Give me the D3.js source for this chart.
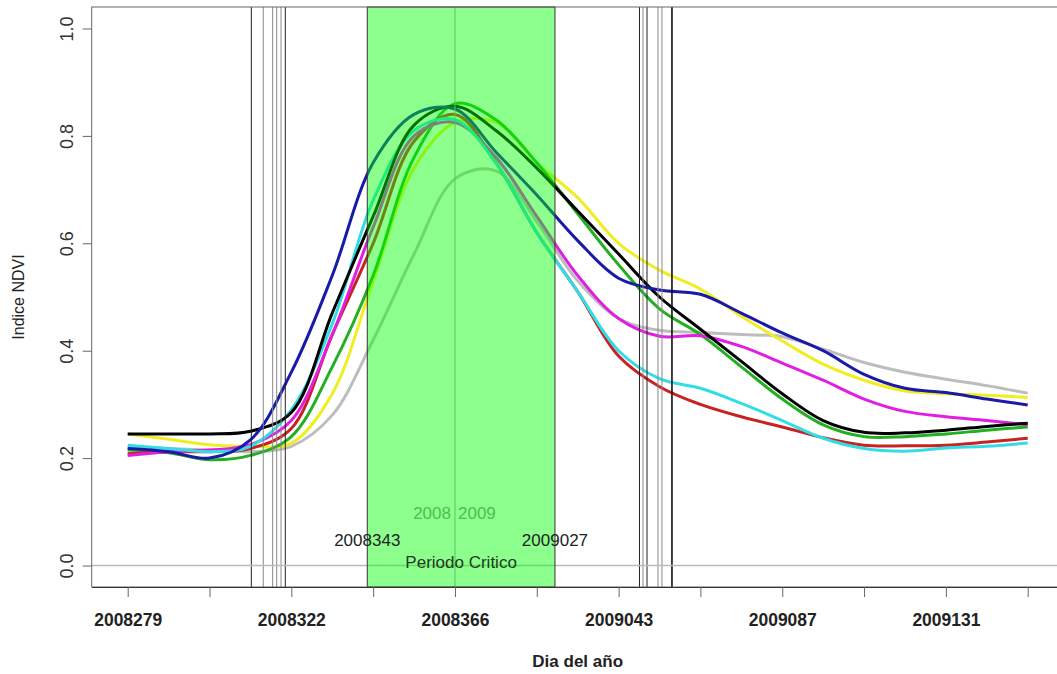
<!DOCTYPE html>
<html>
<head>
<meta charset="utf-8">
<script src="https://cdn.jsdelivr.net/npm/d3@7"></script>
<style>
  body { margin: 0; background: #fff; }
  svg { display: block; font-family: "Liberation Sans", Arial, sans-serif; }
</style>
</head>
<body>
<svg id="chart"></svg>
<script>
// x position is a tick index (one tick every ~22 days), samples every half tick
const tIndex = [0, 0.5, 1, 1.5, 2, 2.5, 3, 3.5, 4, 4.5, 5, 5.5, 6, 6.5, 7, 7.5, 8, 8.5, 9, 9.5, 10, 10.5, 11];
const tickLabels = ['2008279', '', '2008322', '', '2008366', '', '2009043', '', '2009087', '', '2009131', ''];
const yTicks = [0, 0.2, 0.4, 0.6, 0.8, 1.0];

const ndviGray    = [0.22, 0.218, 0.215, 0.212, 0.222, 0.28, 0.42, 0.58, 0.72, 0.735, 0.64, 0.53, 0.46, 0.438, 0.434, 0.43, 0.426, 0.403, 0.378, 0.36, 0.347, 0.335, 0.321];
const ndviYellow  = [0.245, 0.235, 0.225, 0.222, 0.228, 0.32, 0.53, 0.74, 0.825, 0.825, 0.75, 0.685, 0.60, 0.55, 0.515, 0.464, 0.418, 0.375, 0.345, 0.325, 0.32, 0.317, 0.313];
const ndviGreen   = [0.215, 0.21, 0.197, 0.205, 0.24, 0.37, 0.54, 0.76, 0.86, 0.83, 0.75, 0.655, 0.56, 0.478, 0.43, 0.37, 0.31, 0.262, 0.24, 0.24, 0.245, 0.252, 0.258];
const ndviRed     = [0.208, 0.212, 0.212, 0.218, 0.255, 0.43, 0.60, 0.79, 0.84, 0.75, 0.62, 0.51, 0.39, 0.333, 0.30, 0.277, 0.258, 0.238, 0.224, 0.223, 0.224, 0.23, 0.237];
const ndviMagenta = [0.205, 0.212, 0.215, 0.225, 0.27, 0.43, 0.63, 0.80, 0.825, 0.76, 0.65, 0.54, 0.46, 0.427, 0.428, 0.408, 0.377, 0.345, 0.31, 0.287, 0.277, 0.27, 0.262];
const ndviCyan    = [0.224, 0.218, 0.212, 0.222, 0.29, 0.45, 0.68, 0.81, 0.83, 0.75, 0.62, 0.51, 0.40, 0.348, 0.33, 0.302, 0.27, 0.237, 0.218, 0.213, 0.219, 0.222, 0.228];
const ndviBlack   = [0.245, 0.245, 0.245, 0.25, 0.285, 0.47, 0.65, 0.82, 0.855, 0.81, 0.74, 0.66, 0.58, 0.50, 0.44, 0.38, 0.32, 0.27, 0.248, 0.247, 0.252, 0.259, 0.265];
const ndviBlue    = [0.218, 0.212, 0.200, 0.234, 0.36, 0.54, 0.75, 0.84, 0.85, 0.77, 0.69, 0.605, 0.535, 0.513, 0.505, 0.47, 0.433, 0.40, 0.356, 0.33, 0.322, 0.31, 0.299];

// vertical reference lines (tick index units)
const leftMarks  = [1.511, 1.657, 1.772, 1.821, 1.874, 1.926];
const leftCols   = ['#222', '#888', '#888', '#888', '#888', '#222'];
const rightMarks = [6.255, 6.298, 6.347, 6.481, 6.530, 6.652];
const rightCols  = ['#222', '#888', '#222', '#888', '#888', '#111'];

const critStart = 2.928, critEnd = 5.222, critMid = 4;

const series = [
  { name: 'gray', color: '#bdbdbd', values: ndviGray },
  { name: 'yellow', color: '#f0ee22', values: ndviYellow },
  { name: 'green', color: '#22b022', values: ndviGreen },
  { name: 'red', color: '#c82222', values: ndviRed },
  { name: 'magenta', color: '#e020e0', values: ndviMagenta },
  { name: 'cyan', color: '#33dde6', values: ndviCyan },
  { name: 'black', color: '#000000', values: ndviBlack },
  { name: 'blue', color: '#1a1aa8', values: ndviBlue }
];

const width = 1057, height = 674;
const svg = d3.select('#chart').attr('width', width).attr('height', height);

const x = d3.scaleLinear().domain([-0.44, 11.44]).range([91.7, 1063.7]);
const y = d3.scaleLinear().domain([-0.04, 1.04]).range([587, 7]);

const line = d3.line()
  .x((d, i) => x(tIndex[i]))
  .y(d => y(d))
  .curve(d3.curveCatmullRom.alpha(0.5));

svg.selectAll('.ndvi')
  .data(series)
  .join('path')
  .attr('class', 'ndvi')
  .attr('fill', 'none')
  .attr('stroke', d => d.color)
  .attr('stroke-width', 3)
  .attr('stroke-linejoin', 'round')
  .attr('d', d => line(d.values));

// vertical marks
const marks = leftMarks.map((m, i) => ({ t: m, c: leftCols[i] }))
  .concat(rightMarks.map((m, i) => ({ t: m, c: rightCols[i] })));
svg.selectAll('.mark')
  .data(marks)
  .join('line')
  .attr('class', 'mark')
  .attr('x1', d => x(d.t)).attr('x2', d => x(d.t))
  .attr('y1', y(1.04)).attr('y2', y(-0.04))
  .attr('stroke', d => d.c)
  .attr('stroke-width', (d, i) => i === marks.length - 1 ? 1.6 : 1);

// zero line
svg.append('line')
  .attr('x1', x(-0.44)).attr('x2', x(11.44))
  .attr('y1', y(0)).attr('y2', y(0))
  .attr('stroke', '#bbb').attr('stroke-width', 1.5);

// middle line of critical period
svg.append('line')
  .attr('x1', x(critMid)).attr('x2', x(critMid))
  .attr('y1', y(1.04)).attr('y2', y(-0.04))
  .attr('stroke', '#999').attr('stroke-width', 1);

const txt = (tx, ty, s, anchor, col) => svg.append('text')
  .attr('x', tx).attr('y', ty)
  .attr('text-anchor', anchor)
  .attr('font-size', 17)
  .attr('fill', col)
  .text(s);

txt(x(critMid) - 4, 519, '2008', 'end', '#8a8a8a');
txt(x(critMid) + 3, 519, '2009', 'start', '#8a8a8a');

// critical period overlay
svg.append('rect')
  .attr('x', x(critStart))
  .attr('y', y(1.04))
  .attr('width', x(critEnd) - x(critStart))
  .attr('height', y(-0.04) - y(1.04))
  .attr('fill', '#00ff00')
  .attr('fill-opacity', 0.45)
  .attr('stroke', '#333')
  .attr('stroke-width', 1);

txt(x(critStart), 546, '2008343', 'middle', '#222');
txt(x(critEnd), 546, '2009027', 'middle', '#222');
txt((x(critStart) + x(critEnd)) / 2, 568, 'Periodo Critico', 'middle', '#1f3a1f');

// plot box
svg.append('rect')
  .attr('x', x(-0.44)).attr('y', y(1.04))
  .attr('width', x(11.44) - x(-0.44))
  .attr('height', y(-0.04) - y(1.04))
  .attr('fill', 'none')
  .attr('stroke', '#666');

// axes
const xaxis = d3.axisBottom(x)
  .tickValues(d3.range(0, 12))
  .tickFormat(i => tickLabels[i])
  .tickSize(10)
  .tickSizeOuter(0);

const xg = svg.append('g')
  .attr('transform', `translate(0, ${y(-0.04)})`)
  .call(xaxis);
xg.select('.domain').attr('stroke', '#333');
xg.selectAll('.tick line').attr('stroke', '#666');
xg.selectAll('.tick text')
  .attr('y', 39).attr('dy', null)
  .attr('font-size', 19)
  .attr('font-weight', 'bold')
  .attr('font-family', '"Liberation Sans", Arial, sans-serif')
  .attr('fill', '#222')
  .each(function(d) { if (tickLabels[d]) d3.select(this).attr('textLength', 68).attr('lengthAdjust', 'spacingAndGlyphs'); });

const yaxis = d3.axisLeft(y)
  .tickValues(yTicks)
  .tickFormat(d3.format('.1f'))
  .tickSize(9)
  .tickSizeOuter(0);

const yg = svg.append('g')
  .attr('transform', `translate(${x(-0.44)}, 0)`)
  .call(yaxis);
yg.select('.domain').remove();
yg.selectAll('.tick line').attr('stroke', '#666');
yg.selectAll('.tick text')
  .attr('transform', 'rotate(-90)')
  .attr('x', 0).attr('y', -19).attr('dy', null)
  .attr('text-anchor', 'middle')
  .attr('font-size', 18)
  .attr('font-family', '"Liberation Sans", Arial, sans-serif')
  .attr('fill', '#333');

// axis titles
svg.append('text')
  .attr('x', (x(-0.44) + x(11.44)) / 2)
  .attr('y', 667)
  .attr('text-anchor', 'middle')
  .attr('font-size', 17)
  .attr('font-weight', 'bold')
  .attr('fill', '#222')
  .text('Dia del año');

svg.append('text')
  .attr('transform', `translate(24, ${(y(1.04) + y(-0.04)) / 2}) rotate(-90)`)
  .attr('text-anchor', 'middle')
  .attr('font-size', 16)
  .attr('fill', '#222')
  .text('Indice NDVI');
</script>
</body>
</html>
